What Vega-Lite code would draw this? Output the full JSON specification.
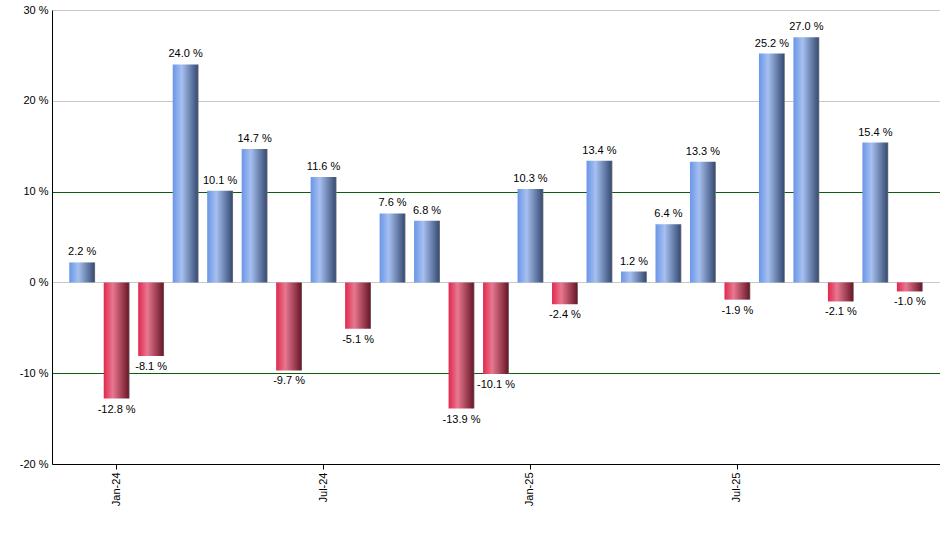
{
  "$schema": "https://vega.github.io/schema/vega-lite/v6.json",
  "width": 940,
  "height": 550,
  "autosize": {"type": "fit", "contains": "padding"},
  "padding": {"left": 19, "top": 4, "right": 0, "bottom": 44},
  "background": "white",
  "config": {
    "view": {"stroke": null},
    "font": "Liberation Sans"
  },
  "data": {
    "values": [
      {"month": "Dec-23", "ret": 2.2},
      {"month": "Jan-24", "ret": -12.8},
      {"month": "Feb-24", "ret": -8.1},
      {"month": "Mar-24", "ret": 24.0},
      {"month": "Apr-24", "ret": 10.1},
      {"month": "May-24", "ret": 14.7},
      {"month": "Jun-24", "ret": -9.7},
      {"month": "Jul-24", "ret": 11.6},
      {"month": "Aug-24", "ret": -5.1},
      {"month": "Sep-24", "ret": 7.6},
      {"month": "Oct-24", "ret": 6.8},
      {"month": "Nov-24", "ret": -13.9},
      {"month": "Dec-24", "ret": -10.1},
      {"month": "Jan-25", "ret": 10.3},
      {"month": "Feb-25", "ret": -2.4},
      {"month": "Mar-25", "ret": 13.4},
      {"month": "Apr-25", "ret": 1.2},
      {"month": "May-25", "ret": 6.4},
      {"month": "Jun-25", "ret": 13.3},
      {"month": "Jul-25", "ret": -1.9},
      {"month": "Aug-25", "ret": 25.2},
      {"month": "Sep-25", "ret": 27.0},
      {"month": "Oct-25", "ret": -2.1},
      {"month": "Nov-25", "ret": 15.4},
      {"month": "Dec-25", "ret": -1.0}
    ]
  },
  "transform": [
    {"calculate": "(datum.ret < 0 ? '-' : '') + format(abs(datum.ret), '.1f') + ' %'", "as": "label"}
  ],
  "encoding": {
    "x": {
      "field": "month",
      "type": "ordinal",
      "scale": {
        "domain": ["Dec-23","Jan-24","Feb-24","Mar-24","Apr-24","May-24","Jun-24","Jul-24","Aug-24","Sep-24","Oct-24","Nov-24","Dec-24","Jan-25","Feb-25","Mar-25","Apr-25","May-25","Jun-25","Jul-25","Aug-25","Sep-25","Oct-25","Nov-25","Dec-25"],
        "paddingInner": 0.25,
        "paddingOuter": 0.5
      },
      "axis": {
        "title": null,
        "values": ["Jan-24", "Jul-24", "Jan-25", "Jul-25"],
        "labelAngle": -90,
        "labelFontSize": 11,
        "labelColor": "#000000",
        "labelPadding": 3,
        "domainColor": "#000000",
        "tickColor": "#000000",
        "tickSize": 5,
        "grid": false
      }
    },
    "y": {
      "field": "ret",
      "type": "quantitative",
      "scale": {"domain": [-20, 30], "nice": false},
      "axis": {
        "title": null,
        "values": [-20, -10, 0, 10, 20, 30],
        "labelExpr": "datum.value + ' %'",
        "labelFontSize": 11,
        "labelColor": "#000000",
        "labelPadding": 4,
        "ticks": false,
        "domainColor": "#000000",
        "grid": true,
        "gridColor": {
          "condition": {"test": "abs(datum.value) == 10", "value": "#0b5e0b"},
          "value": "#c8c8c8"
        }
      }
    }
  },
  "layer": [
    {
      "transform": [{"filter": "datum.ret >= 0"}],
      "mark": {
        "type": "bar",
        "color": {
          "gradient": "linear",
          "x1": 0, "y1": 0, "x2": 1, "y2": 0,
          "stops": [
            {"offset": 0, "color": "#6a95e8"},
            {"offset": 0.35, "color": "#a6c0f0"},
            {"offset": 0.95, "color": "#3b5078"},
            {"offset": 1, "color": "#7a7a7a"}
          ]
        }
      }
    },
    {
      "transform": [{"filter": "datum.ret < 0"}],
      "mark": {
        "type": "bar",
        "color": {
          "gradient": "linear",
          "x1": 0, "y1": 0, "x2": 1, "y2": 0,
          "stops": [
            {"offset": 0, "color": "#e0284e"},
            {"offset": 0.35, "color": "#e87890"},
            {"offset": 0.95, "color": "#6e1a2c"},
            {"offset": 1, "color": "#7a7a7a"}
          ]
        }
      }
    },
    {
      "transform": [{"filter": "datum.ret >= 0"}],
      "mark": {"type": "text", "baseline": "bottom", "dy": -5, "fontSize": 11, "color": "#000000"},
      "encoding": {
        "text": {"field": "label", "type": "nominal"}
      }
    },
    {
      "transform": [{"filter": "datum.ret < 0"}],
      "mark": {"type": "text", "baseline": "top", "dy": 5, "fontSize": 11, "color": "#000000"},
      "encoding": {
        "text": {"field": "label", "type": "nominal"}
      }
    }
  ]
}
